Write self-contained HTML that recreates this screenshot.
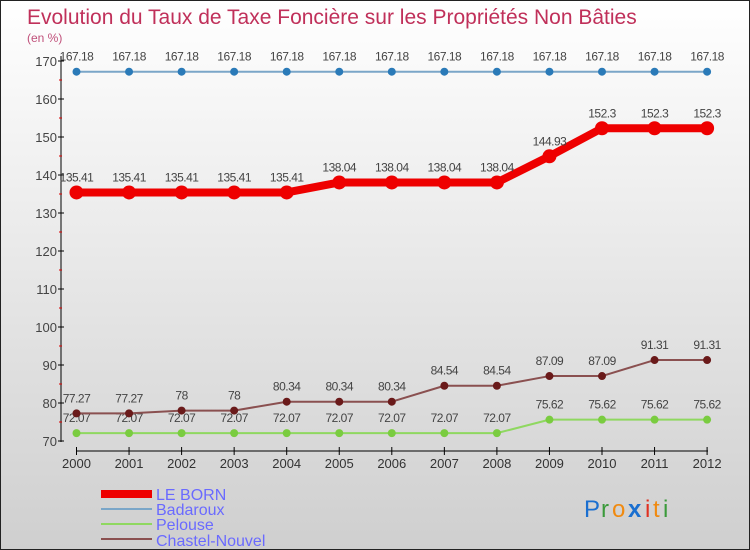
<!DOCTYPE html>
<html><head><meta charset="utf-8"><style>
body{margin:0}
#c{width:750px;height:550px;position:relative;box-sizing:border-box;border:1px solid #222;background:linear-gradient(#ffffff,#cfcfcf);font-family:"Liberation Sans",sans-serif;overflow:hidden}
text{font-family:"Liberation Sans",sans-serif}
</style></head><body>
<div id="c">
<svg id="s" width="750" height="550">
<text x="26" y="23" font-size="21" fill="#c0305a">Evolution du Taux de Taxe Foncière sur les Propriétés Non Bâties</text>
<text x="26" y="41" font-size="12" fill="#c0507a">(en %)</text>
<g id="ax"></g><g id="ser"></g>
<g>
<rect x="100" y="489" width="51" height="8" fill="#e00"/>
<text x="155" y="499" font-size="16" fill="#6a6aff">LE BORN</text>
<rect x="100" y="507" width="51" height="2" fill="#7aa6c8"/>
<text x="155" y="514" font-size="16" fill="#6a6aff">Badaroux</text>
<rect x="100" y="522" width="51" height="2" fill="#8fd860"/>
<text x="155" y="529" font-size="16" fill="#6a6aff">Pelouse</text>
<rect x="100" y="537" width="51" height="2" fill="#8a5050"/>
<text x="155" y="545" font-size="16" fill="#6a6aff">Chastel-Nouvel</text>
</g>
<g font-size="24" font-family="Liberation Sans">
<text x="583" y="516" fill="#1a6fd0">P</text><text x="600" y="516" fill="#3a9a3a">r</text><text x="611" y="516" fill="#f08a10">o</text><text x="627" y="516" fill="#1a6fd0" font-weight="bold">x</text><text x="644" y="516" fill="#e03020">i</text><text x="652" y="516" fill="#f08a10">t</text><text x="662" y="516" fill="#3a9a3a">i</text>
</g>
</svg></div>
<script>
const years=["2000","2001","2002","2003","2004","2005","2006","2007","2008","2009","2010","2011","2012"];
const leBorn=[135.41,135.41,135.41,135.41,135.41,138.04,138.04,138.04,138.04,144.93,152.3,152.3,152.3];
const badaroux=[167.18,167.18,167.18,167.18,167.18,167.18,167.18,167.18,167.18,167.18,167.18,167.18,167.18];
const pelouse=[72.07,72.07,72.07,72.07,72.07,72.07,72.07,72.07,72.07,75.62,75.62,75.62,75.62];
const chastel=[77.27,77.27,78,78,80.34,80.34,80.34,84.54,84.54,87.09,87.09,91.31,91.31];
const yTicks=[70,80,90,100,110,120,130,140,150,160,170];
const NS="http://www.w3.org/2000/svg";
const xs=i=>75.5+i*52.55;
const ys=v=>440-(v-70)*3.8;
function mk(t,a,p){const e=document.createElementNS(NS,t);for(const k in a)e.setAttribute(k,a[k]);p.appendChild(e);return e;}
const ax=document.getElementById('ax');
const yl=mk('line',{x1:60,y1:55,x2:60,y2:441,stroke:'#000','stroke-width':1},ax);


yTicks.forEach(v=>{
 mk('line',{x1:57,x2:63,y1:ys(v),y2:ys(v),stroke:'#000'},ax);
 if(v<170)mk('line',{x1:58,x2:61,y1:ys(v+5),y2:ys(v+5),stroke:'#d00'},ax);
 const t=mk('text',{x:56,y:ys(v)+5,'text-anchor':'end','font-size':13,fill:'#444'},ax);
 t.textContent=v;
 
 
});
const xl=mk('line',{x1:75,y1:450,x2:707,y2:450,stroke:'#000'},ax);


years.forEach((y,i)=>{
 mk('line',{x1:xs(i),x2:xs(i),y1:446,y2:454,stroke:'#000'},ax);
 const t=mk('text',{x:xs(i),y:467,'text-anchor':'middle','font-size':13,fill:'#333'},ax);
 t.textContent=y;
 
 
});
const ser=document.getElementById('ser');
function series(name,vals,col,w,r,dot){
 const g=mk('g',{},ser);
 
 
 mk('polyline',{points:vals.map((v,i)=>xs(i)+','+ys(v)).join(' '),fill:'none',stroke:col,'stroke-width':w,'stroke-linejoin':'round'},g);
 vals.forEach((v,i)=>{
  const c=mk('circle',{cx:xs(i),cy:ys(v),r:r,fill:dot},g);
  
  
  const t=mk('text',{x:xs(i),y:ys(v)-11,'text-anchor':'middle','font-size':12,fill:'#444','letter-spacing':'-0.5'},g);
  t.textContent=String(v).replace('.','.');
  
  
 });
}
series('badaroux',badaroux,'#7aa6c8',2,4,'#2a7ab8');
series('pelouse',pelouse,'#8fd860',2,4,'#7acc40');
series('chastel-nouvel',chastel,'#8a5050',2,4,'#6a1a1a');
series('le-born',leBorn,'#ee0000',8,7,'#ee0000');
</script>
</body></html>
